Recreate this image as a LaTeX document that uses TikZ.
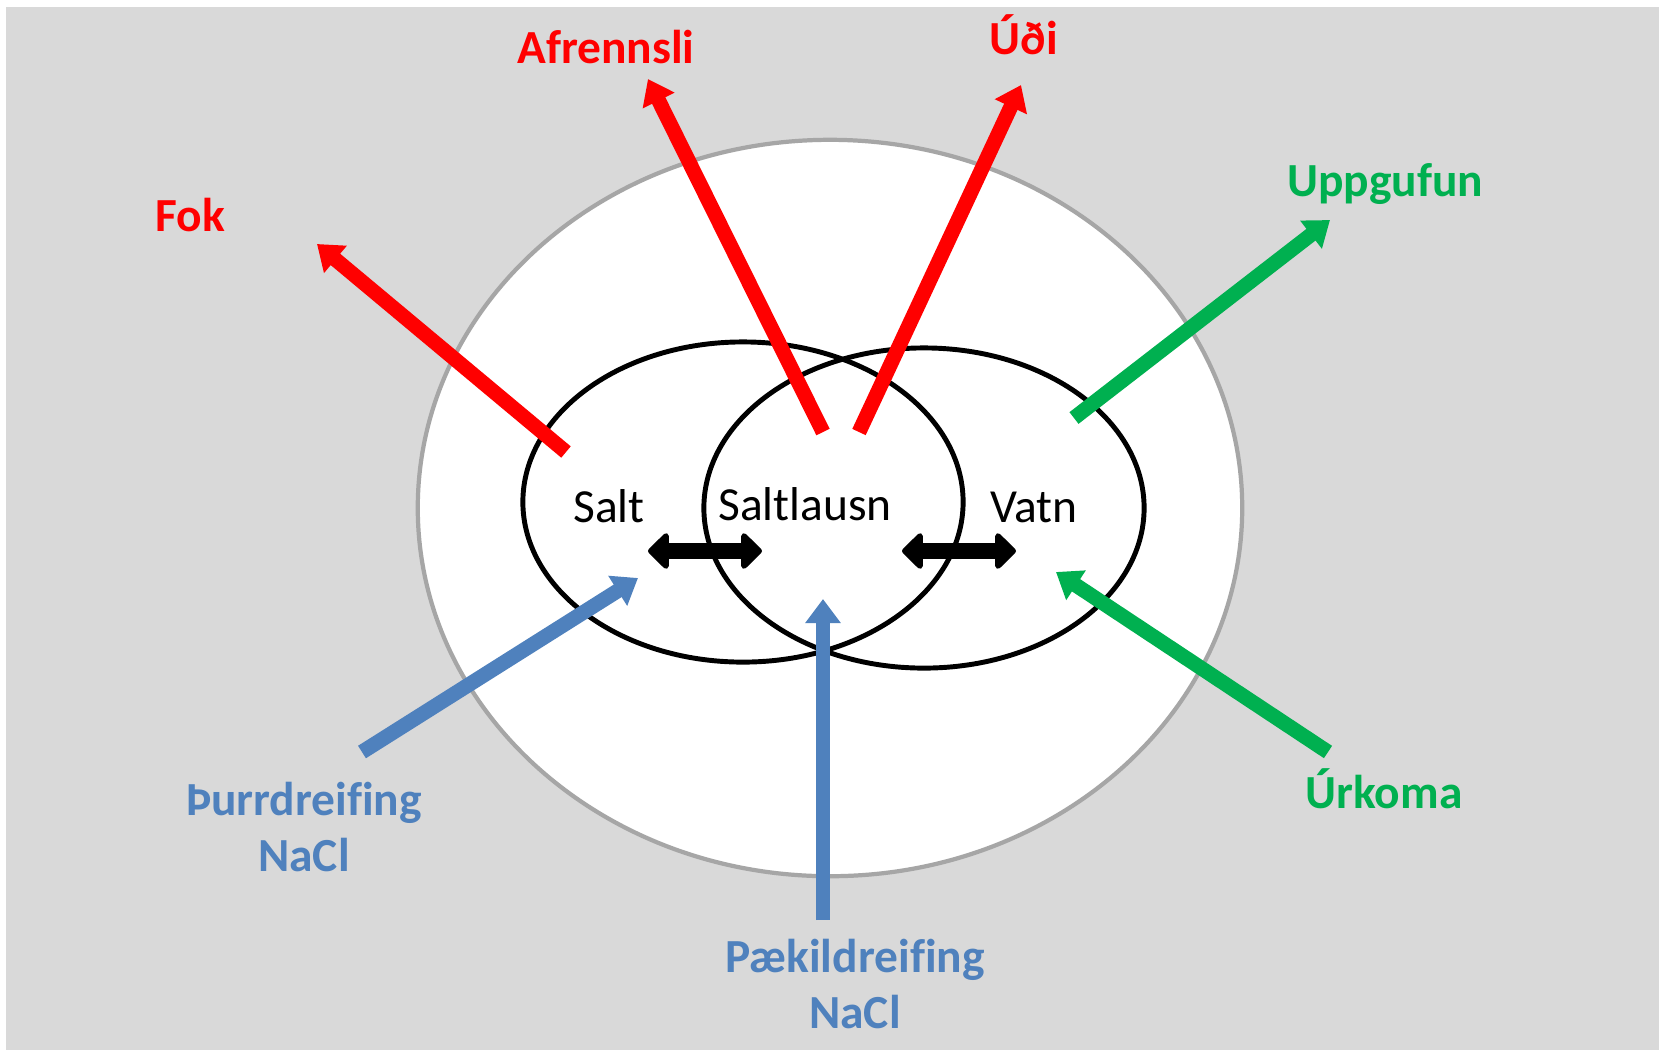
\documentclass[tikz,border=0pt]{standalone}
\usepackage{fontspec}
\setmainfont{Carlito}[Ligatures=NoCommon]
\usetikzlibrary{arrows.meta}
\definecolor{bggray}{HTML}{D9D9D9}
\definecolor{rimgray}{HTML}{A6A6A6}
\definecolor{flowred}{HTML}{FF0000}
\definecolor{flowgreen}{HTML}{00B050}
\definecolor{flowblue}{HTML}{4F81BD}
\tikzset{
  flow/.style={line width=4.2pt, -{Triangle[length=0.24cm,width=0.34cm]}},
  swap/.style={line width=4.8pt,
    {Triangle[length=0.22cm,width=0.42cm,round]}-{Triangle[length=0.22cm,width=0.42cm,round]}},
  lbl/.style={font=\bfseries\fontsize{13.5}{16}\selectfont, align=center},
  part/.style={font=\fontsize{13.5}{16}\selectfont}
}
\begin{document}
\begin{tikzpicture}[x=0.01cm,y=-0.01cm]
      \useasboundingbox (0,0) rectangle (1659,1050);
      \fill[bggray] (6,7) rectangle (1659,1050);
      % the three regions
      \coordinate (lake) at (830,508);
      \coordinate (saltc) at (743,502);
      \coordinate (vatnc) at (924,508);
      \draw[rimgray, line width=1.2pt, fill=white] (lake) ellipse [x radius=4.12cm, y radius=3.68cm];
      \draw[line width=1.4pt] (saltc) ellipse [x radius=2.2cm, y radius=1.6cm];
      \draw[line width=1.4pt] (vatnc) ellipse [x radius=2.2cm, y radius=1.6cm];
      \node[part] (salt) at (609,506) {Salt};
      \node[part] (lausn) at (805,504) {Saltlausn};
      \node[part] (vatn) at (1034,507) {Vatn};
      % labels
      \node[lbl, flowred] (afrennsli) at (606,47) {Afrennsli};
      \node[lbl, flowred] (udi) at (1024,35) {Úði};
      \node[lbl, flowred] (fok) at (190,215) {Fok};
      \node[lbl, flowgreen] (uppgufun) at (1385,184) {Uppgufun};
      \node[lbl, flowgreen] (urkoma) at (1384,789) {Úrkoma};
      \node[lbl, flowblue] (thurr) at (304,827) {Þurrdreifing\\NaCl};
      \node[lbl, flowblue] (paekill) at (855,984) {Pækildreifing\\NaCl};
      % arrow ends
      \coordinate (fok0) at (566,452);     \coordinate (fok1) at (317,244);
      \coordinate (afr0) at (823,432);     \coordinate (afr1) at (648,79);
      \coordinate (udi0) at (859,432);     \coordinate (udi1) at (1021,85);
      \coordinate (upp0) at (1074,418);    \coordinate (upp1) at (1330,220);
      \coordinate (urk0) at (1328,752);    \coordinate (urk1) at (1056,572);
      \coordinate (thu0) at (362,752);     \coordinate (thu1) at (638,578);
      \coordinate (pae0) at (823,920);     \coordinate (pae1) at (823,599);
      \coordinate (sl0) at (648,551);      \coordinate (sl1) at (762,551);
      \coordinate (lv0) at (902,551);      \coordinate (lv1) at (1016,551);
      \begin{scope}[flow]
        \draw[flowred] (fok0) -- (fok1);
        \draw[flowred] (afr0) -- (afr1);
        \draw[flowred] (udi0) -- (udi1);
        \draw[flowgreen] (upp0) -- (upp1);
        \draw[flowgreen] (urk0) -- (urk1);
        \draw[flowblue] (thu0) -- (thu1);
        \draw[flowblue] (pae0) -- (pae1);
      \end{scope}
      \draw[swap] (sl0) -- (sl1);
      \draw[swap] (lv0) -- (lv1);
    \end{tikzpicture}
\end{document}
